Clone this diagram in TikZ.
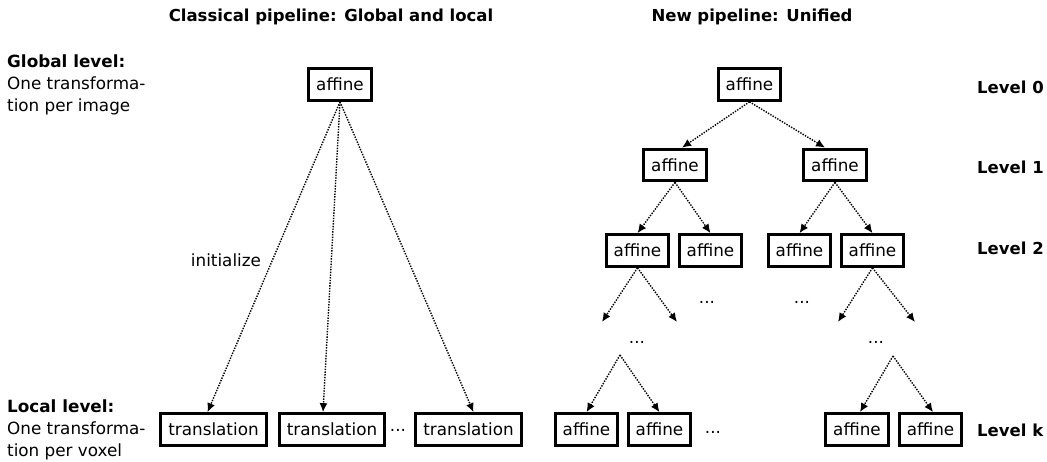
\documentclass[tikz,border=0pt]{standalone}
\usepackage{fontspec}
\setmainfont{DejaVu Sans}
\usetikzlibrary{arrows.meta}
\begin{document}
\begin{tikzpicture}[x=1pt,y=-1pt,
  every node/.style={font=\fontsize{16.8}{22}\selectfont},
  box/.style={draw,line width=3.2pt,minimum height=31.5pt,inner xsep=7.5pt,inner ysep=0pt},
  conn/.style={line width=1.4pt,dash pattern=on 1.4pt off 1.3pt,-{Latex[length=9pt,width=8pt]}},
  heading/.style={font=\fontsize{16.5}{22}\selectfont\bfseries},
  side/.style={align=left,anchor=west,inner sep=0pt},
  dots/.style={inner sep=0pt}]
\useasboundingbox (0,0) rectangle (1047,462);
% titles
\node[heading] (title1) at (331,17) {Classical pipeline: Global and local};
\node[heading] (title2) at (752,17) {New pipeline: Unified};
% side labels
\node[side] (glob) at (7,85) {\textbf{Global level:}\\One transforma-\\tion per image};
\node[side] (loc) at (7,430) {\textbf{Local level:}\\One transforma-\\tion per voxel};
% left pipeline
\node[box] (g) at (340,84.5) {affine};
\node[box] (t1) at (213.5,429.5) {translation};
\node[box] (t2) at (332,429.5) {translation};
\node[box] (t3) at (468.5,429.5) {translation};
\node[dots] (dl) at (398,430) {...};
\node (init) at (226,260) {initialize};
\draw[conn] (g.south) -- ([xshift=-6pt]t1.north);
\draw[conn] (g.south) -- ([xshift=-9pt]t2.north);
\draw[conn] (g.south) -- ([xshift=5pt]t3.north);
% right pipeline
\node[box] (r0) at (749.5,84.5) {affine};
\node[box] (r1a) at (675,165) {affine};
\node[box] (r1b) at (835,165) {affine};
\node[box] (r2a) at (637.5,250.5) {affine};
\node[box] (r2b) at (710.5,250.5) {affine};
\node[box] (r2c) at (799.5,250.5) {affine};
\node[box] (r2d) at (872.5,250.5) {affine};
\node[box] (k1) at (586.5,429.5) {affine};
\node[box] (k2) at (659.5,429.5) {affine};
\node[box] (k3) at (857,429.5) {affine};
\node[box] (k4) at (930.5,429.5) {affine};
\node[dots] (d1) at (707,302) {...};
\node[dots] (d2) at (802,302) {...};
\node[dots] (d3) at (637,342) {...};
\node[dots] (d4) at (876,342) {...};
\node[dots] (d5) at (713,432) {...};
\coordinate (e1) at (602,322);
\coordinate (e2) at (677,322);
\coordinate (e3) at (838,322);
\coordinate (e4) at (915,322);
\coordinate (a1) at (620,355);
\coordinate (a2) at (893,356);
\draw[conn] (r0.south) -- ([xshift=7pt]r1a.north);
\draw[conn] (r0.south) -- ([xshift=-10pt]r1b.north);
\draw[conn] (r1a.south) -- (r2a.north);
\draw[conn] (r1a.south) -- (r2b.north);
\draw[conn] (r1b.south) -- (r2c.north);
\draw[conn] (r1b.south) -- (r2d.north);
\draw[conn] (r2a.south) -- (e1);
\draw[conn] (r2a.south) -- (e2);
\draw[conn] (r2d.south) -- (e3);
\draw[conn] (r2d.south) -- (e4);
\draw[conn] (a1) -- (k1.north);
\draw[conn] (a1) -- (k2.north);
\draw[conn] (a2) -- ([xshift=3pt]k3.north);
\draw[conn] (a2) -- ([xshift=2.5pt]k4.north);
% level labels
\node[side,font=\fontsize{16.5}{22}\selectfont\bfseries] (l0) at (977,87) {Level 0};
\node[side,font=\fontsize{16.5}{22}\selectfont\bfseries] (l1) at (977,167) {Level 1};
\node[side,font=\fontsize{16.5}{22}\selectfont\bfseries] (l2) at (977,248) {Level 2};
\node[side,font=\fontsize{16.5}{22}\selectfont\bfseries] (lk) at (977,430) {Level k};
\end{tikzpicture}
\end{document}
